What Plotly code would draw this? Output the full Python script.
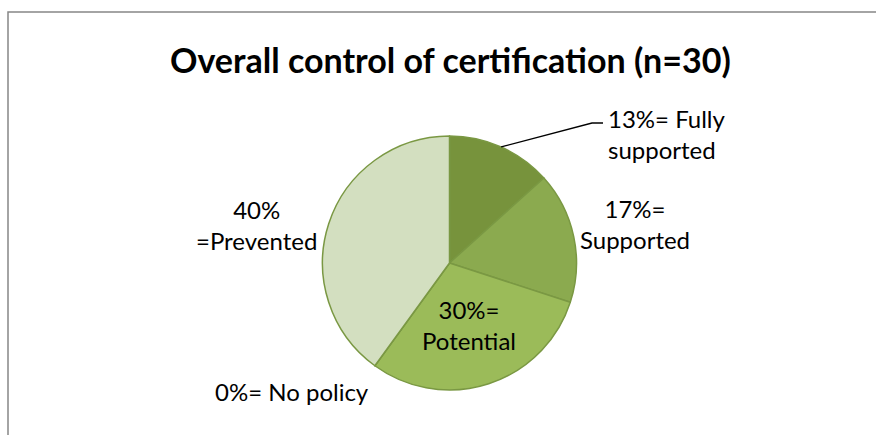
import math
import plotly.graph_objects as go

# Responses (n=30) per category, in clockwise order from 12 o'clock
categories = ["Fully supported", "Supported", "Potential", "No policy", "Prevented"]
counts = [4, 5, 9, 0, 12]
colors = ["#77933C", "#8BAA4F", "#9BBB59", "#C3D69B", "#D3DFC0"]

title_text = "Overall control of certification (n=30)"

W, H = 876, 435
total = sum(counts)
pcts = [round(100 * c / total) for c in counts]

# pie geometry in pixels
cx, cy, r = 449.5, 263.0, 127.0

def px(x):
    return x / W

def py(y):
    return 1 - y / H

fig = go.Figure(
    go.Pie(
        labels=categories,
        values=counts,
        sort=False,
        direction="clockwise",
        rotation=0,
        textinfo="none",
        hoverinfo="label+percent",
        marker=dict(colors=colors, line=dict(color="#7A9843", width=1.5)),
        domain=dict(x=[px(cx - r), px(cx + r)], y=[py(cy + r), py(cy - r)]),
        showlegend=False,
    )
)

# label texts built from the data
lab = {
    "Fully supported": f"{pcts[0]}%= Fully<br>supported",
    "Supported": f"{pcts[1]}%=<br>Supported",
    "Potential": f"{pcts[2]}%=<br>Potential",
    "No policy": f"{pcts[3]}%= No policy",
    "Prevented": f"{pcts[4]}%<br>=Prevented",
}
# (x, y, xanchor, align) in pixels
lab_pos = {
    "Fully supported": (606, 134, "left", "left"),
    "Supported": (635, 224, "center", "center"),
    "Potential": (469, 325, "center", "center"),
    "No policy": (292, 391, "center", "center"),
    "Prevented": (256, 225, "center", "center"),
}

font = dict(family="Lato, Calibri, sans-serif", size=24, color="#000000")
annotations = []
for cat in categories:
    x, y, xa, al = lab_pos[cat]
    annotations.append(dict(
        x=px(x), y=py(y), xref="paper", yref="paper",
        text=lab[cat], showarrow=False, xanchor=xa, yanchor="middle",
        align=al, font=font,
    ))

annotations.append(dict(
    x=px(450), y=py(59), xref="paper", yref="paper",
    text="<b>" + title_text + "</b>", showarrow=False,
    xanchor="center", yanchor="middle",
    font=dict(family="Lato, Calibri, sans-serif", size=34, color="#000000"),
))

# leader line from the middle of the first slice to its label
mid_frac = (counts[0] / 2) / total
ang = 2 * math.pi * mid_frac
sx = cx + r * math.sin(ang)
sy = cy - r * math.cos(ang)
shapes = [
    dict(type="path", xref="paper", yref="paper",
         path=f"M {px(sx)} {py(sy)} L {px(592)} {py(123)} L {px(603)} {py(123)}",
         line=dict(color="#000000", width=1.3)),
    # chart area frame
    dict(type="rect", xref="paper", yref="paper",
         x0=px(8), y0=py(12), x1=1.05, y1=-0.05,
         line=dict(color="#878787", width=1.5), fillcolor="rgba(0,0,0,0)"),
]

fig.update_layout(
    width=W, height=H,
    margin=dict(l=0, r=0, t=0, b=0),
    paper_bgcolor="#FFFFFF",
    plot_bgcolor="#FFFFFF",
    annotations=annotations,
    shapes=shapes,
)

fig.write_html("out.html", config={"displayModeBar": False})
